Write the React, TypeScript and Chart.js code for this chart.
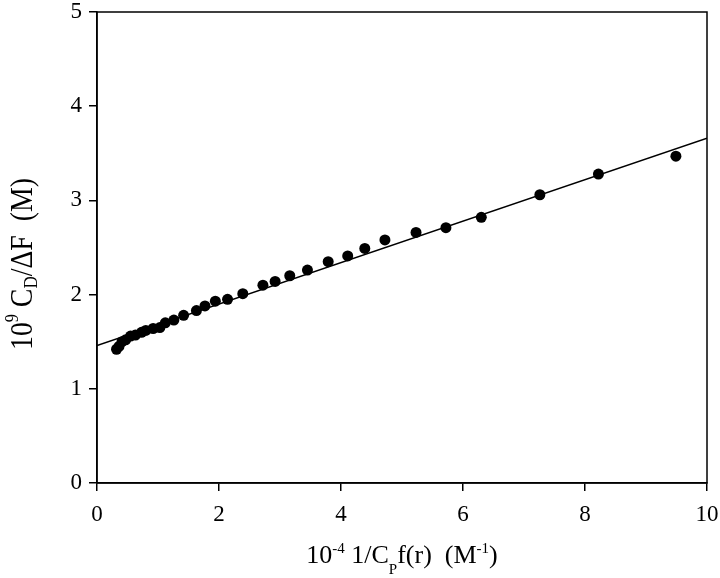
import React, { useEffect, useRef } from "react";
import { Chart, registerables } from "chart.js";

Chart.register(...registerables);

const xValues = [0.32, 0.36, 0.41, 0.47, 0.55, 0.63, 0.73, 0.8, 0.92, 1.03, 1.12, 1.26, 1.42, 1.63, 1.77, 1.94, 2.14, 2.39, 2.72, 2.92, 3.16, 3.45, 3.79, 4.11, 4.39, 4.72, 5.23, 5.72, 6.3, 7.26, 8.22, 9.49];
const yValues = [1.42, 1.45, 1.5, 1.52, 1.56, 1.57, 1.6, 1.62, 1.64, 1.65, 1.7, 1.73, 1.78, 1.83, 1.88, 1.93, 1.95, 2.01, 2.1, 2.14, 2.2, 2.26, 2.35, 2.41, 2.49, 2.58, 2.66, 2.71, 2.82, 3.06, 3.28, 3.47];
const fitX = [0, 10];
const fitY = [1.46, 3.66];

type Run = { t: string; k?: "sup" | "sub" };
const xTitle: Run[] = [
  { t: "10" }, { t: "-4", k: "sup" }, { t: " 1/C" }, { t: "P", k: "sub" },
  { t: "f(r)  (M" }, { t: "-1", k: "sup" }, { t: ")" },
];
const yTitle: Run[] = [
  { t: "10" }, { t: "9", k: "sup" }, { t: " C" }, { t: "D", k: "sub" }, { t: "/ΔF  (M)" },
];

const FAMILY = "Liberation Serif";

type Style = { main: number; sup: number; sub: number; supDy: number; subDy: number; length?: number };

function drawRich(ctx: CanvasRenderingContext2D, runs: Run[], cx: number, baseY: number, st: Style) {
  const fontOf = (r: Run) => `${r.k === "sup" ? st.sup : r.k === "sub" ? st.sub : st.main}px "${FAMILY}"`;
  let total = 0;
  for (const r of runs) {
    ctx.font = fontOf(r);
    total += ctx.measureText(r.t).width;
  }
  const sx = st.length ? st.length / total : 1;
  ctx.save();
  ctx.translate(cx, baseY);
  ctx.scale(sx, 1);
  let x = -total / 2;
  ctx.textAlign = "left";
  ctx.textBaseline = "alphabetic";
  for (const r of runs) {
    ctx.font = fontOf(r);
    const dy = r.k === "sup" ? st.supDy : r.k === "sub" ? st.subDy : 0;
    ctx.fillText(r.t, x, dy);
    x += ctx.measureText(r.t).width;
  }
  ctx.restore();
}

const decor = {
  id: "decor",
  afterDraw(chart: any) {
    const { ctx, chartArea } = chart;
    ctx.save();
    ctx.strokeStyle = "#000";
    ctx.lineWidth = 1.5;
    ctx.strokeRect(chartArea.left, chartArea.top, chartArea.right - chartArea.left, chartArea.bottom - chartArea.top);
    ctx.fillStyle = "#000";
    drawRich(ctx, xTitle, 402, 563, { main: 26, sup: 15, sub: 15, supDy: -10, subDy: 11 });
    ctx.translate(32, 264);
    ctx.rotate(-Math.PI / 2);
    drawRich(ctx, yTitle, 0, 0, { main: 31, sup: 18, sub: 19, supDy: -14, subDy: 5, length: 172 });
    ctx.restore();
  },
};

export default function App() {
  const ref = useRef<HTMLCanvasElement | null>(null);
  useEffect(() => {
    let chart: Chart | null = null;
    let cancelled = false;
    const build = () => {
      if (cancelled || !ref.current) return;
      const tickFont = { family: `"${FAMILY}"`, size: 23 };
      chart = new Chart(ref.current, {
        type: "scatter",
        data: {
          datasets: [
            {
              label: "fit",
              data: fitX.map((x, i) => ({ x, y: fitY[i] })),
              showLine: true,
              borderColor: "#000",
              borderWidth: 1.5,
              pointRadius: 0,
            },
            {
              label: "data",
              data: xValues.map((x, i) => ({ x, y: yValues[i] })),
              backgroundColor: "#000",
              borderColor: "#000",
              pointRadius: 5.5,
              borderWidth: 0,
            },
          ],
        },
        options: {
          responsive: false,
          animation: false,
          layout: { padding: { top: 12, right: 13, left: 0, bottom: 0 } },
          plugins: { legend: { display: false }, tooltip: { enabled: false } },
          scales: {
            x: {
              type: "linear",
              min: 0,
              max: 10,
              ticks: { stepSize: 2, color: "#000", font: tickFont, padding: 10, maxRotation: 0 },
              grid: { drawOnChartArea: false, drawTicks: true, tickLength: 8, color: "#000", lineWidth: 1.5 },
              border: { display: true, color: "#000", width: 1.5 },
              afterFit: (s: any) => { s.height = 95; s.paddingRight = 0; s.paddingLeft = 0; },
            },
            y: {
              type: "linear",
              min: 0,
              max: 5,
              ticks: { stepSize: 1, color: "#000", font: tickFont, padding: 7 },
              grid: { drawOnChartArea: false, drawTicks: true, tickLength: 8, color: "#000", lineWidth: 1.5 },
              border: { display: true, color: "#000", width: 1.5 },
              afterFit: (s: any) => { s.width = 97; s.paddingTop = 0; s.paddingBottom = 0; },
            },
          },
        },
        plugins: [decor],
      } as any);
    };
    const fonts = (document as any).fonts;
    if (fonts && fonts.load) {
      Promise.all([fonts.load(`23px "${FAMILY}"`), fonts.load(`15px "${FAMILY}"`)])
        .catch(() => null)
        .then(build);
    } else {
      build();
    }
    return () => {
      cancelled = true;
      if (chart) chart.destroy();
    };
  }, []);
  return (
    <div style={{ position: "absolute", left: 0, top: 0, width: 720, height: 578, background: "#fff" }}>
      <canvas ref={ref} width={720} height={578} />
    </div>
  );
}
